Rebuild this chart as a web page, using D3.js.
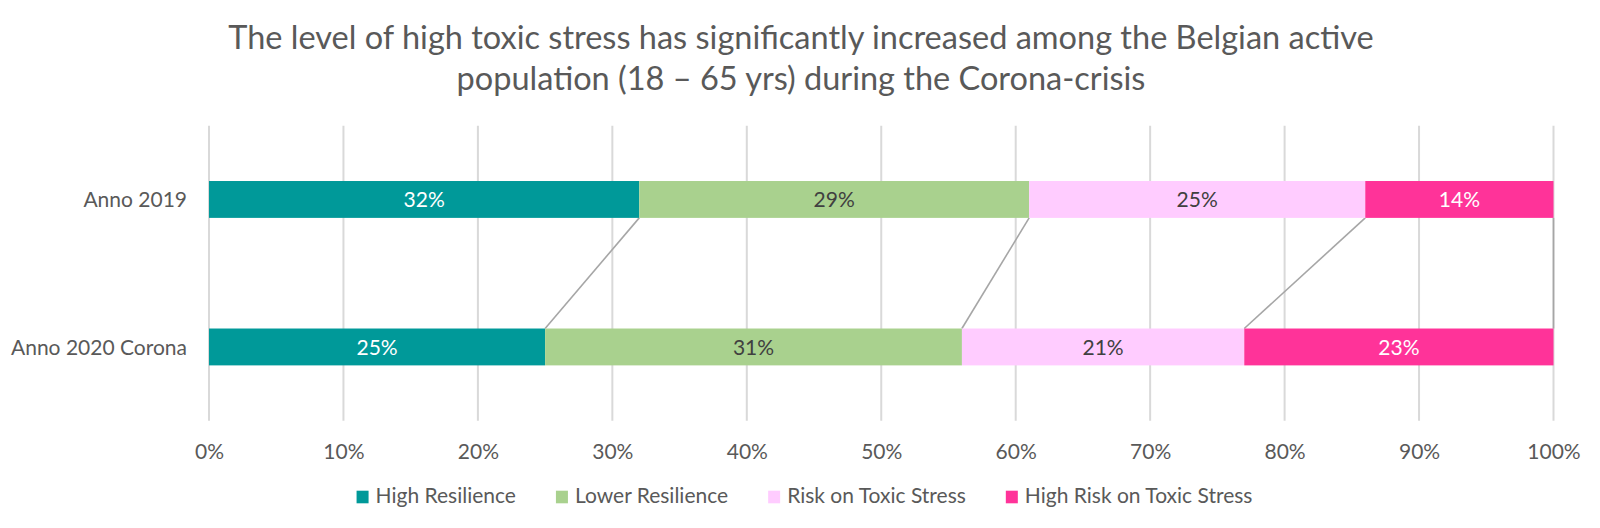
<!DOCTYPE html>
<html>
<head>
<meta charset="utf-8">
<script src="https://cdn.jsdelivr.net/npm/d3@7"></script>
<style>
  html, body { margin: 0; padding: 0; background: #fff; }
  svg { display: block; font-family: Lato, "Open Sans", sans-serif; }
</style>
</head>
<body>
<svg id="chart" width="1600" height="528"></svg>
<script>
// ---- data ----
const categories = ["Anno 2019", "Anno 2020 Corona"];
const seriesNames = ["High Resilience", "Lower Resilience", "Risk on Toxic Stress", "High Risk on Toxic Stress"];
const highResilience = [32, 25];
const lowerResilience = [29, 31];
const riskOnToxicStress = [25, 21];
const highRiskOnToxicStress = [14, 23];
const xTickValues = [0, 10, 20, 30, 40, 50, 60, 70, 80, 90, 100];
const titleLines = [
  "The level of high toxic stress has significantly increased among the Belgian active",
  "population (18 \u2013 65 yrs) during the Corona-crisis"
];

// ---- styles ----
const seriesColors = ["#009999", "#A9D18E", "#FFCCFF", "#FF3399"];
const labelColors = ["#FFFFFF", "#404040", "#404040", "#FFFFFF"];
const textColor = "#595959";

// table for the stack
const seriesArrays = [highResilience, lowerResilience, riskOnToxicStress, highRiskOnToxicStress];
const table = categories.map((c, i) => {
  const row = { category: c };
  seriesNames.forEach((s, k) => row[s] = seriesArrays[k][i]);
  return row;
});
const stacked = d3.stack().keys(seriesNames)(table);

const svg = d3.select("#chart");

const x = d3.scaleLinear().domain([0, 100]).range([209, 1553.5]);
const y = d3.scaleBand().domain(categories).range([125.7, 420.7]).padding(0);
const barH = y.bandwidth() / 4;
const barTop = c => y(c) + (y.bandwidth() - barH) / 2;

// title
svg.append("g").selectAll("text").data(titleLines).join("text")
  .attr("x", 801)
  .attr("y", (d, i) => 49 + i * 41)
  .attr("text-anchor", "middle")
  .attr("fill", textColor)
  .style("font-size", "32.5px")
  .text(d => d);

// gridlines
svg.append("g").selectAll("line").data(xTickValues).join("line")
  .attr("x1", d => x(d)).attr("x2", d => x(d))
  .attr("y1", 125.7).attr("y2", 420.7)
  .attr("stroke", "#D9D9D9").attr("stroke-width", 2);

// x axis tick labels
const xAxis = d3.axisBottom(x).tickValues(xTickValues).tickFormat(d => d + "%").tickSize(0).tickPadding(0);
const gx = svg.append("g").attr("transform", "translate(0,420.7)").call(xAxis);
gx.select(".domain").remove();
gx.selectAll("text")
  .attr("y", 38.5).attr("dy", null)
  .attr("fill", textColor)
  .style("font-size", "21px")
  .style("font-family", "Lato, 'Open Sans', sans-serif");

// y axis labels
const yAxis = d3.axisLeft(y).tickSize(0).tickPadding(0);
const gy = svg.append("g").attr("transform", "translate(187,0)").call(yAxis);
gy.select(".domain").remove();
gy.selectAll("text")
  .attr("x", 0).attr("dy", "0.36em")
  .attr("fill", textColor)
  .style("font-size", "21px")
  .style("font-family", "Lato, 'Open Sans', sans-serif");

// series lines (connecting cumulative boundaries)
const i0 = 0, i1 = 1;
svg.append("g").selectAll("line").data(stacked).join("line")
  .attr("x1", s => x(s[i0][1]))
  .attr("y1", barTop(categories[i0]) + barH)
  .attr("x2", s => x(s[i1][1]))
  .attr("y2", barTop(categories[i1]))
  .attr("stroke", "#A6A6A6").attr("stroke-width", 1.6);

// bars
const layers = svg.append("g").selectAll("g").data(stacked).join("g")
  .attr("fill", (s, k) => seriesColors[k]);
layers.selectAll("rect").data(s => s).join("rect")
  .attr("x", d => x(d[0]))
  .attr("width", d => x(d[1]) - x(d[0]))
  .attr("y", d => barTop(d.data.category))
  .attr("height", barH);

// data labels
const labelSize = 21;
svg.append("g").selectAll("g").data(stacked).join("g")
  .attr("fill", (s, k) => labelColors[k])
  .selectAll("text").data(s => s).join("text")
  .attr("x", d => x((d[0] + d[1]) / 2))
  .attr("y", d => barTop(d.data.category) + barH / 2 + labelSize * 0.36)
  .attr("text-anchor", "middle")
  .style("font-size", labelSize + "px")
  .text(d => (d[1] - d[0]) + "%");

// legend
const legend = svg.append("g");
const legendSize = 21;
const items = legend.selectAll("g").data(seriesNames).join("g");
items.append("rect")
  .attr("width", 12).attr("height", 12.6)
  .attr("y", 490.7)
  .attr("fill", (d, k) => seriesColors[k]);
items.append("text")
  .attr("x", 19).attr("y", 503.3)
  .attr("fill", textColor)
  .style("font-size", legendSize + "px")
  .text(d => d);
let cursor = 0;
const offsets = [];
items.each(function () {
  const w = d3.select(this).select("text").node().getComputedTextLength();
  offsets.push(cursor);
  cursor += 19 + w + 40;
});
const totalW = cursor - 40;
const start = 804.5 - totalW / 2;
items.attr("transform", (d, k) => `translate(${start + offsets[k]},0)`);
</script>
</body>
</html>
